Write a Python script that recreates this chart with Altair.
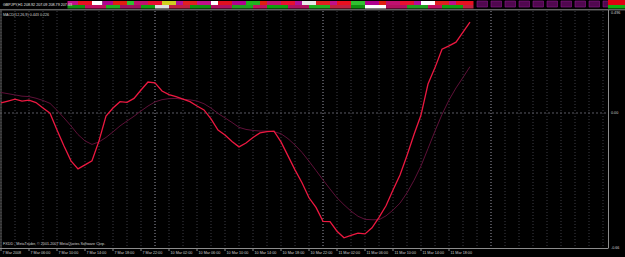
import altair as alt
import pandas as pd

# ---------------- data ----------------
bars = list(range(68))  # H1 bars, 7 Mar 2008 02:00 ... 11 Mar 21:00
macd_main = [0.049, 0.058, 0.067, 0.058, 0.063, 0.051, 0.024, -0.001, -0.083, -0.161,
             -0.233, -0.272, -0.253, -0.233, -0.136, -0.015, 0.024, 0.055, 0.052, 0.071,
             0.112, 0.151, 0.147, 0.107, 0.090, 0.080, 0.068, 0.055, 0.034, 0.015,
             -0.029, -0.083, -0.107, -0.139, -0.165, -0.146, -0.119, -0.097, -0.091, -0.088,
             -0.141, -0.209, -0.277, -0.340, -0.413, -0.460, -0.528, -0.529, -0.576, -0.608,
             -0.596, -0.585, -0.589, -0.559, -0.508, -0.452, -0.375, -0.302, -0.207, -0.105,
             -0.010, 0.141, 0.221, 0.311, 0.327, 0.345, 0.394, 0.443]
macd_signal = [0.100, 0.094, 0.088, 0.082, 0.080, 0.072, 0.061, 0.047, 0.013, -0.024,
               -0.063, -0.105, -0.136, -0.153, -0.141, -0.119, -0.092, -0.063, -0.039, -0.016,
               0.010, 0.034, 0.054, 0.065, 0.070, 0.071, 0.067, 0.064, 0.058, 0.045,
               0.024, -0.002, -0.024, -0.046, -0.070, -0.080, -0.085, -0.088, -0.088, -0.091,
               -0.101, -0.125, -0.156, -0.192, -0.235, -0.280, -0.326, -0.370, -0.413, -0.447,
               -0.478, -0.503, -0.518, -0.520, -0.520, -0.501, -0.473, -0.439, -0.389, -0.328,
               -0.258, -0.173, -0.088, -0.007, 0.063, 0.122, 0.173, 0.226]

tick_bars = [0, 4, 8, 12, 16, 20, 24, 28, 32, 36, 40, 44, 48, 52, 56, 60, 64]
tick_labels = ["7 Mar 2008", "7 Mar 06:00", "7 Mar 10:00", "7 Mar 14:00", "7 Mar 18:00",
               "7 Mar 22:00", "10 Mar 02:00", "10 Mar 06:00", "10 Mar 10:00", "10 Mar 14:00",
               "10 Mar 18:00", "10 Mar 22:00", "11 Mar 02:00", "11 Mar 06:00", "11 Mar 10:00",
               "11 Mar 14:00", "11 Mar 18:00"]

grid_bars = list(range(0, 88, 2))
day_sep_bars = [22, 46, 70]

right_top_value = [0.496]
right_top_text = ["0.496"]
right_mid_values = [0.0, -0.66]
right_mid_texts = ["0.00", "-0.66"]

# compressed price window strip (start bar, end bar, colour)
upper_start = [9.5, 11, 13, 14.5, 16, 18, 19, 21, 23, 25, 26, 28, 30, 31, 33, 35, 37, 38,
               40, 42, 43, 45, 47, 48, 50, 52, 54, 55, 57, 59, 60, 62, 64, 65]
upper_color = ["#c0108a", "#e81020", "#ffffff", "#b0008f", "#e02010", "#30c030", "#c01070",
               "#e81030", "#d0d020", "#b0109a", "#e02020", "#c0108a", "#ffffff", "#e01020",
               "#b0008f", "#20b020", "#e02010", "#c01070", "#e81030", "#b0109a", "#e8e8e8",
               "#e02020", "#c0108a", "#e81020", "#30c030", "#b0008f", "#e02010", "#c01070",
               "#e81030", "#b0109a", "#ffffff", "#e02020", "#c0108a", "#e81020"]
upper_end = upper_start[1:] + [67.5]
lower_start = [9.5, 12, 15, 17, 20, 22, 24, 27, 30, 33, 36, 38, 41, 44, 47, 50, 52, 55,
               58, 61, 63, 66]
lower_color = ["#109010", "#c01060", "#20b020", "#a01060", "#10a010", "#e0e0e0", "#c02040",
               "#109010", "#b01060", "#20a020", "#c01060", "#10a010", "#b01060", "#20b020",
               "#c02040", "#109010", "#ffffff", "#b01060", "#20a020", "#c01060", "#10a010",
               "#c02040"]
lower_end = lower_start[1:] + [67.5]
future_box_start = [68, 70, 72, 74, 76, 78, 80, 82, 84, 86]

price_title = ["GBPJPY,H1  208.92 207.09 208.79 207.03"]
macd_title = ["MACD(12,26,9) 0.443 0.226"]
copyright_text = ["FXDD - MetaTrader, \u00a9 2001-2007 MetaQuotes Software Corp."]

# ---------------- chart ----------------
W, H = 608, 248
xs = alt.Scale(domain=[-0.143, 86.714], nice=False, zero=False)
ys = alt.Scale(domain=[-0.6576, 0.5504], nice=False, zero=False)
FONT = "Liberation Sans"
TXT = "#d0d0d0"
FS = 3.7

df_lines = pd.DataFrame({"bar": bars, "main": macd_main, "signal": macd_signal})
df_ticks = pd.DataFrame({"bar": tick_bars, "label": tick_labels})
df_grid = pd.DataFrame({"bar": grid_bars})
df_day = pd.DataFrame({"bar": day_sep_bars})
df_zero = pd.DataFrame({"v": [0.0]})
df_rtop = pd.DataFrame({"v": right_top_value, "t": right_top_text})
df_rmid = pd.DataFrame({"v": right_mid_values, "t": right_mid_texts})
df_up = pd.DataFrame({"s": upper_start, "e": upper_end, "c": upper_color})
df_lo = pd.DataFrame({"s": lower_start, "e": lower_end, "c": lower_color})
df_fut = pd.DataFrame({"s": future_box_start, "e": [b + 1.5 for b in future_box_start]})
one = pd.DataFrame({"k": [0]})

grid = alt.Chart(df_grid).mark_rule(color="#3c3c44", strokeWidth=1, strokeDash=[1, 2]).encode(
    x=alt.X("bar:Q", scale=xs, axis=None), y=alt.value(11), y2=alt.value(H))
day = alt.Chart(df_day).mark_rule(color="#7c7c86", strokeWidth=1, strokeDash=[1, 2]).encode(
    x=alt.X("bar:Q", scale=xs, axis=None), y=alt.value(11), y2=alt.value(H))
zero = alt.Chart(df_zero).mark_rule(color="#5a5a64", strokeWidth=1, strokeDash=[2, 2]).encode(
    y=alt.Y("v:Q", scale=ys, axis=None), x=alt.value(0), x2=alt.value(W))

up = alt.Chart(df_up).mark_rect().encode(
    x=alt.X("s:Q", scale=xs, axis=None), x2="e:Q", y=alt.value(1), y2=alt.value(5),
    color=alt.Color("c:N", scale=None))
lo = alt.Chart(df_lo).mark_rect().encode(
    x=alt.X("s:Q", scale=xs, axis=None), x2="e:Q", y=alt.value(5), y2=alt.value(8.5),
    color=alt.Color("c:N", scale=None))
fut = alt.Chart(df_fut).mark_rect(color="#50084f", stroke="#8a1a8a", strokeWidth=0.6).encode(
    x=alt.X("s:Q", scale=xs, axis=None), x2="e:Q", y=alt.value(1), y2=alt.value(7))
tag_red = alt.Chart(one).mark_rect(color="#e00010").encode(
    x=alt.value(W), x2=alt.value(625), y=alt.value(0), y2=alt.value(5))
tag_green = alt.Chart(one).mark_rect(color="#10b010").encode(
    x=alt.value(W), x2=alt.value(625), y=alt.value(5), y2=alt.value(8.5))

sep = alt.Chart(one).mark_rule(color="#8c8c8c", strokeWidth=1).encode(
    x=alt.value(0), x2=alt.value(625), y=alt.value(9.8))
right_border = alt.Chart(one).mark_rule(color="#8c8c8c", strokeWidth=1).encode(
    x=alt.value(W + 0.5), y=alt.value(10), y2=alt.value(H))
bottom_border = alt.Chart(one).mark_rule(color="#8c8c8c", strokeWidth=1).encode(
    x=alt.value(0), x2=alt.value(W + 0.5), y=alt.value(H + 0.5))
left_border = alt.Chart(one).mark_rule(color="#606060", strokeWidth=1).encode(
    x=alt.value(1), y=alt.value(10), y2=alt.value(H))

sig = alt.Chart(df_lines).mark_line(color="#5e1038", strokeWidth=1.0).encode(
    x=alt.X("bar:Q", scale=xs, axis=None), y=alt.Y("signal:Q", scale=ys, axis=None))
main = alt.Chart(df_lines).mark_line(color="#EC1840", strokeWidth=1.3).encode(
    x=alt.X("bar:Q", scale=xs, axis=None), y=alt.Y("main:Q", scale=ys, axis=None))

ticks = alt.Chart(df_ticks).mark_rule(color="#8c8c8c", strokeWidth=1).encode(
    x=alt.X("bar:Q", scale=xs, axis=None), y=alt.value(H), y2=alt.value(H + 3))
tick_text = alt.Chart(df_ticks).mark_text(
    align="left", baseline="middle", dx=1.5, font=FONT, fontSize=FS, color=TXT).encode(
    x=alt.X("bar:Q", scale=xs, axis=None), y=alt.value(252.5), text="label:N")

rtop = alt.Chart(df_rtop).mark_text(
    align="left", baseline="top", font=FONT, fontSize=FS, color=TXT).encode(
    x=alt.value(611), y=alt.Y("v:Q", scale=ys, axis=None), text="t:N")
rmid = alt.Chart(df_rmid).mark_text(
    align="left", baseline="middle", font=FONT, fontSize=FS, color=TXT).encode(
    x=alt.value(611), y=alt.Y("v:Q", scale=ys, axis=None), text="t:N")

t_price = alt.Chart(pd.DataFrame({"t": price_title})).mark_text(
    align="left", baseline="middle", font=FONT, fontSize=FS, color="#e8e8e8").encode(
    x=alt.value(3), y=alt.value(4.5), text="t:N")
t_macd = alt.Chart(pd.DataFrame({"t": macd_title})).mark_text(
    align="left", baseline="middle", font=FONT, fontSize=FS, color=TXT).encode(
    x=alt.value(3), y=alt.value(15), text="t:N")
t_copy = alt.Chart(pd.DataFrame({"t": copyright_text})).mark_text(
    align="left", baseline="middle", font=FONT, fontSize=FS, color=TXT).encode(
    x=alt.value(3), y=alt.value(244), text="t:N")

chart = alt.layer(
    up, lo, fut, tag_red, tag_green, grid, day, zero, sep, left_border, right_border,
    bottom_border, ticks, sig, main, tick_text, rtop, rmid, t_price, t_macd, t_copy
).properties(
    width=W, height=H, background="#000000",
    padding={"left": 0, "top": 0, "right": 17, "bottom": 9},
    autosize=alt.AutoSizeParams(type="none"),
).configure_view(stroke=None)

chart.save("out.html", embed_options={"renderer": "svg", "actions": False})
